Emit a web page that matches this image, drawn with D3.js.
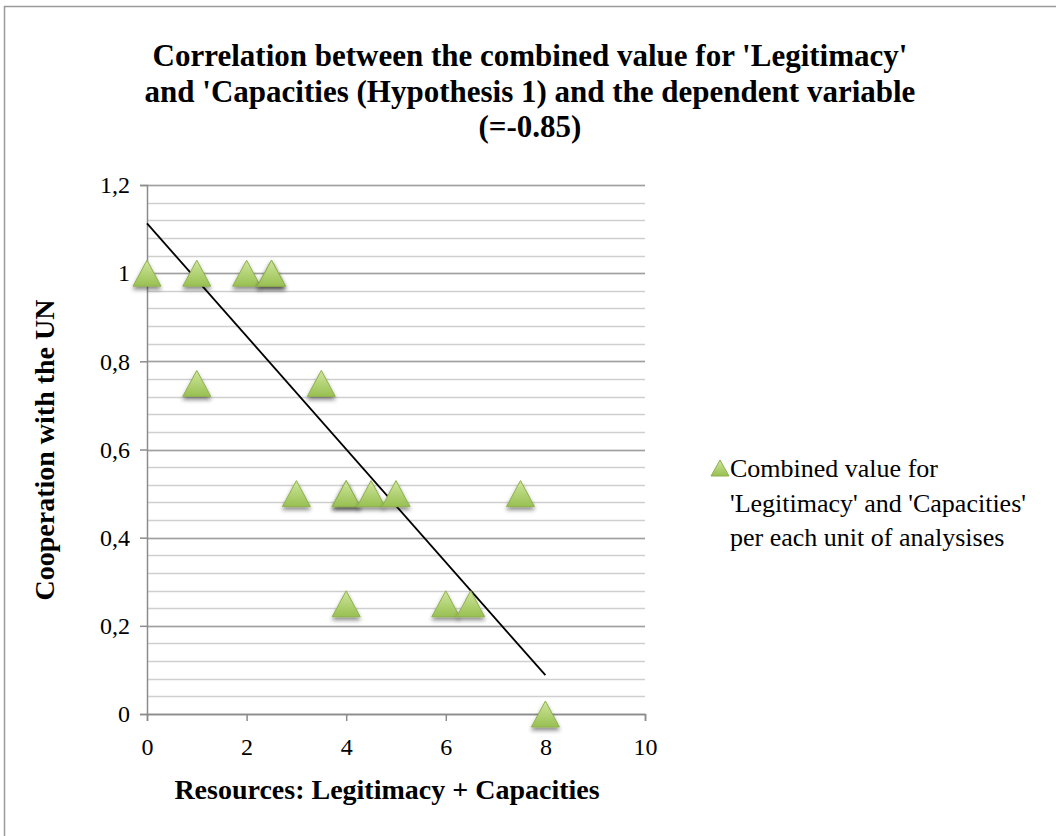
<!DOCTYPE html>
<html>
<head>
<meta charset="utf-8">
<script src="https://cdn.jsdelivr.net/npm/d3@7"></script>
<style>
  body { margin: 0; background: #fff; }
  svg { font-family: "Liberation Serif", "Times New Roman", serif; }
</style>
</head>
<body>
<div id="visual"></div>
<script>
///// DATA /////
var xValues = [0, 1, 2, 2.5, 2.5, 1, 3.5, 3, 4, 4, 4.5, 5, 7.5, 4, 6, 6.5, 8];
var yValues = [1, 1, 1, 1, 1, 0.75, 0.75, 0.5, 0.5, 0.5, 0.5, 0.5, 0.5, 0.25, 0.25, 0.25, 0];
var xTicks = [0, 2, 4, 6, 8, 10];
var yTicks = [0, 0.2, 0.4, 0.6, 0.8, 1, 1.2];
var trendStart = [0, 1.113];
var trendEnd = [8, 0.088];

var titleLines = ["Correlation between the combined value for 'Legitimacy'",
	"and 'Capacities (Hypothesis 1) and the dependent variable",
	"(=-0.85)"];
var legendLines = ["Combined value for", "'Legitimacy' and 'Capacities'", "per each unit of analysises"];

///// DIMENSIONS /////
var margins = { left: 147, right: 411, top: 185, bottom: 122 };
var W = 1056, H = 836;
var width = W - margins.left - margins.right,
	height = H - margins.top - margins.bottom;

var xScale = d3.scaleLinear().domain([0, 10]).range([0, width]);
var yScale = d3.scaleLinear().domain([0, 1.2]).range([height, 0]);

var svg = d3.select('#visual').append('svg')
	.attr('width', W).attr('height', H);

// drop shadow + gradient for the triangles
var defs = svg.append('defs');
var grad = defs.append('linearGradient').attr('id', 'tri').attr('x1', 0).attr('y1', 0).attr('x2', 0).attr('y2', 1);
grad.append('stop').attr('offset', '0%').attr('stop-color', '#cfe69c');
grad.append('stop').attr('offset', '100%').attr('stop-color', '#98c052');
var shadow = defs.append('filter').attr('id', 'shadow').attr('x', '-50%').attr('y', '-50%').attr('width', '200%').attr('height', '200%');
shadow.append('feDropShadow').attr('dx', 0).attr('dy', 3).attr('stdDeviation', 2)
	.attr('flood-color', '#000').attr('flood-opacity', 0.45);

// outer border
svg.append('rect')
	.attr('x', 4.5).attr('y', 6.5).attr('width', W).attr('height', H)
	.attr('fill', 'none').attr('stroke', '#9a9a9a').attr('stroke-width', 1.5);

///// TITLE /////
svg.append('g').selectAll('text')
	.data(titleLines).enter().append('text')
	.attr('x', 530).attr('y', function(d, i) { return 66 + i * 35.5; })
	.attr('text-anchor', 'middle')
	.style('font-size', '31px').style('font-weight', 'bold')
	.text(function(d) { return d; });

var g = svg.append('g')
	.attr('transform', `translate(${margins.left},${margins.top})`);

///// GRID /////
var minor = d3.range(0, 1.2001, 0.04);
g.selectAll('.minor').data(minor).enter().append('line')
	.attr('x1', 0).attr('x2', width)
	.attr('y1', d => Math.round(yScale(d)) + 0.5).attr('y2', d => Math.round(yScale(d)) + 0.5)
	.attr('stroke', '#cfcfcf').attr('stroke-width', 1.5);
g.selectAll('.major').data(yTicks).enter().append('line')
	.attr('x1', 0).attr('x2', width)
	.attr('y1', d => Math.round(yScale(d)) + 0.5).attr('y2', d => Math.round(yScale(d)) + 0.5)
	.attr('stroke', '#a0a0a0').attr('stroke-width', 1.5);

///// AXES /////
var fmt = d => String(+d.toFixed(1)).replace('.', ',');
var yAxis = g.append('g')
	.call(d3.axisLeft(yScale).tickValues(yTicks).tickFormat(fmt).tickSize(7).tickPadding(10));
var xAxis = g.append('g')
	.attr('transform', `translate(0,${height})`)
	.call(d3.axisBottom(xScale).tickValues(xTicks).tickSize(7).tickPadding(17));
[xAxis, yAxis].forEach(function(ax) {
	ax.select('.domain').attr('stroke', '#8c8c8c').attr('stroke-width', 1.5);
	ax.selectAll('.tick line').attr('stroke', '#8c8c8c').attr('stroke-width', 1.5);
	ax.selectAll('text').style('font-family', '"Liberation Serif", serif')
		.style('font-size', '24px').attr('fill', '#000');
});

svg.append('text')
	.attr('x', 387).attr('y', 799)
	.attr('text-anchor', 'middle')
	.style('font-size', '28px').style('font-weight', 'bold')
	.text('Resources: Legitimacy + Capacities');

svg.append('text')
	.attr('transform', 'translate(54,450) rotate(-90)')
	.attr('text-anchor', 'middle')
	.style('font-size', '28px').style('font-weight', 'bold')
	.text('Cooperation with the UN');

///// TRENDLINE /////
g.append('line')
	.attr('x1', xScale(trendStart[0])).attr('y1', yScale(trendStart[1]))
	.attr('x2', xScale(trendEnd[0])).attr('y2', yScale(trendEnd[1]))
	.attr('stroke', '#000').attr('stroke-width', 1.8);

///// POINTS /////
var tri = 'M0,-13L14,13L-14,13Z';
g.selectAll('.pt').data(xValues).enter().append('path')
	.attr('d', tri)
	.attr('transform', (d, i) => `translate(${xScale(d)},${yScale(yValues[i])})`)
	.attr('fill', 'url(#tri)')
	.attr('stroke', '#8fb14c').attr('stroke-width', 1)
	.attr('filter', 'url(#shadow)');

///// LEGEND /////
var legend = svg.append('g').attr('transform', 'translate(720,468)');
legend.append('path').attr('d', 'M0,-8L9,8L-9,8Z')
	.attr('fill', 'url(#tri)').attr('stroke', '#8fb14c');
legend.selectAll('text').data(legendLines).enter().append('text')
	.attr('x', 10).attr('y', (d, i) => 9 + i * 34.5)
	.style('font-size', '26px')
	.text(d => d);
</script>
</body>
</html>
